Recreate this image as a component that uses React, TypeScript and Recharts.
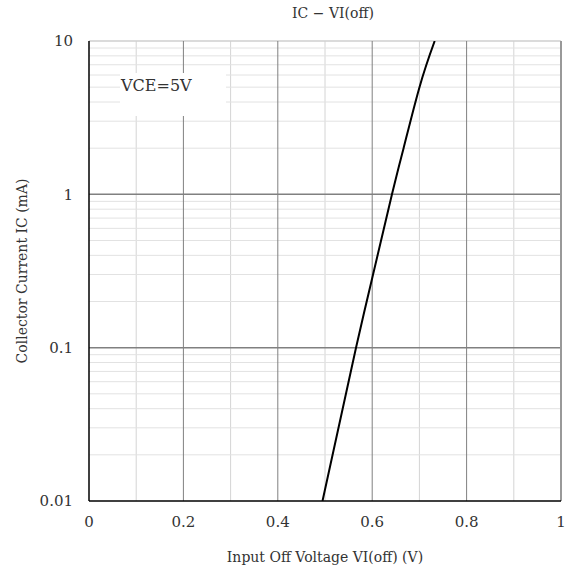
import { LineChart, Line, XAxis, YAxis, ReferenceLine } from "recharts"

const vin = [0.4947, 0.5657, 0.6419, 0.6665, 0.7002, 0.7324]
const ic = [0.01, 0.1, 1, 2, 5, 10]

const xTicks = [0, 0.2, 0.4, 0.6, 0.8, 1]
const yTicks = [0.01, 0.1, 1, 10]
const xMajor = [0.2, 0.4, 0.6, 0.8]
const xMinor = [0.1, 0.3, 0.5, 0.7, 0.9]
const yMajor = [0.1, 1]
const yMinor = [
  0.02, 0.03, 0.04, 0.05, 0.06, 0.07, 0.08, 0.09,
  0.2, 0.3, 0.4, 0.5, 0.6, 0.7, 0.8, 0.9,
  2, 3, 4, 5, 6, 7, 8, 9,
]

const font = "'DejaVu Serif', serif"
const textColor = "#333"

const chartData = vin.map((v, i) => ({ v, ic: ic[i] }))

export default function App() {
  return (
    <div
      style={{
        position: "absolute",
        left: 0,
        top: 0,
        width: 571,
        height: 573,
        background: "#fff",
        fontFamily: font,
      }}
    >
      <div
        style={{
          position: "absolute",
          left: 233,
          width: 200,
          top: 5,
          textAlign: "center",
          fontSize: 14,
          color: textColor,
        }}
      >
        IC − VI(off)
      </div>

      <LineChart
        width={571}
        height={573}
        data={chartData}
        margin={{ top: 41, right: 10, bottom: 0, left: 0 }}
      >
        {xMinor.map((x) => (
          <ReferenceLine key={"xm" + x} x={x} stroke="#d4d4d4" />
        ))}
        {yMinor.map((y) => (
          <ReferenceLine key={"ym" + y} y={y} stroke="#e2e2e2" />
        ))}
        <ReferenceLine y={10} stroke="#cfcfcf" strokeWidth={1.5} />
        {xMajor.map((x) => (
          <ReferenceLine key={"xM" + x} x={x} stroke="#808080" />
        ))}
        {yMajor.map((y) => (
          <ReferenceLine key={"yM" + y} y={y} stroke="#808080" strokeWidth={1.5} />
        ))}
        <ReferenceLine x={1} stroke="#999" strokeWidth={2} />

        <XAxis
          dataKey="v"
          type="number"
          domain={[0, 1]}
          ticks={xTicks}
          height={72}
          stroke="#000"
          strokeWidth={1.5}
          tickLine={false}
          tickSize={6}
          tickMargin={9}
          tick={{ fill: textColor, fontSize: 15, fontFamily: font }}
          label={{
            value: "Input Off Voltage VI(off) (V)",
            position: "insideBottom",
            offset: 11,
            fill: textColor,
            fontSize: 14,
            fontFamily: font,
          }}
        />
        <YAxis
          type="number"
          scale="log"
          domain={[0.01, 10]}
          allowDataOverflow
          ticks={yTicks}
          width={89}
          stroke="#000"
          strokeWidth={1.5}
          tickLine={false}
          tickSize={6}
          tickMargin={10}
          tickFormatter={(t) => String(t)}
          tick={{ fill: textColor, fontSize: 15, fontFamily: font }}
          label={{
            value: "Collector Current IC (mA)",
            angle: -90,
            position: "insideLeft",
            offset: 22,
            fill: textColor,
            fontSize: 14,
            fontFamily: font,
            style: { textAnchor: "middle" },
          }}
        />

        <Line
          type="natural"
          dataKey="ic"
          stroke="#000"
          strokeWidth={2}
          dot={false}
          isAnimationActive={false}
        />
      </LineChart>

      <div
        style={{
          position: "absolute",
          left: 120,
          top: 73,
          width: 106,
          height: 43,
          background: "#fff",
          boxSizing: "border-box",
          paddingLeft: 1,
          paddingTop: 3,
          fontSize: 16,
          color: textColor,
        }}
      >
        VCE=5V
      </div>
    </div>
  )
}
